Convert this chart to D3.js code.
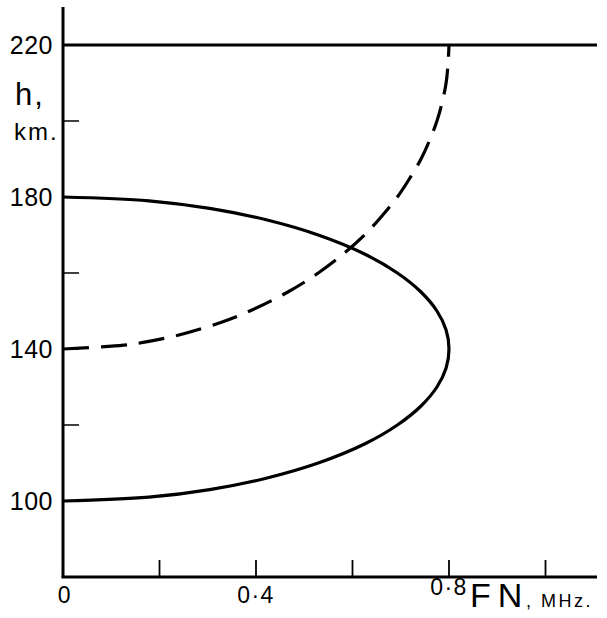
<!DOCTYPE html>
<html><head><meta charset="utf-8">
<script src="https://cdn.jsdelivr.net/npm/d3@7"></script>
<style>body{margin:0;background:#fff}svg{display:block}text{font-family:"Liberation Sans",Arial,sans-serif;fill:#000}</style>
</head><body>
<script>
// Solid curve (layer profile): height h (km) vs plasma frequency FN (MHz)
const solidH  = [100,101,103,106,110,115,120,125,130,135,140,145,150,155,160,165,170,174,177,179,180];
const solidFN = [0,0.178,0.304,0.421,0.529,0.625,0.693,0.742,0.775,0.794,0.800,0.794,0.775,0.742,0.693,0.625,0.529,0.421,0.304,0.178,0];
// Dashed curve
const dashH  = [140,141,142,144,147,150,155,160,165,170,175,180,185,190,195,200,205,210,215,220];
const dashFN = [0,0.126,0.178,0.250,0.327,0.387,0.466,0.529,0.581,0.625,0.661,0.693,0.719,0.742,0.760,0.775,0.786,0.794,0.798,0.800];
// Horizontal line level
const topLevel = 220;
// Axis ticks
const yTicks = [100,120,140,160,180,200,220];
const yLabels = [100,140,180,220];
const xTicks = [0.2,0.4,0.6,0.8,1.0];
const xLabels = [{v:0,t:"0"},{v:0.4,t:"0·4"},{v:0.8,t:"0·8"}];

const W=607,H=618;
const svg=d3.select("body").append("svg").attr("width",W).attr("height",H);
const x=d3.scaleLinear().domain([0,1.1]).range([63,593.75]);
const y=d3.scaleLinear().domain([80,230]).range([577,7]);
const x0=x(0), yb=y(80);

// axes lines
svg.append("line").attr("x1",x0).attr("x2",x0).attr("y1",7).attr("y2",yb).attr("stroke","#000").attr("stroke-width",3);
svg.append("line").attr("x1",x0-1.5).attr("x2",597).attr("y1",yb).attr("y2",yb).attr("stroke","#000").attr("stroke-width",3);

// ticks
svg.selectAll(".yt").data(yTicks).enter().append("line")
  .attr("x1",x0).attr("x2",x0+16).attr("y1",d=>y(d)).attr("y2",d=>y(d)).attr("stroke","#000").attr("stroke-width",1.5);
svg.selectAll(".xt").data(xTicks).enter().append("line")
  .attr("x1",d=>x(d)).attr("x2",d=>x(d)).attr("y1",yb).attr("y2",yb-17).attr("stroke","#000").attr("stroke-width",1.8);

// labels
svg.selectAll(".yl").data(yLabels).enter().append("text")
  .attr("x",53).attr("y",d=>y(d)).attr("dy","0.36em").attr("text-anchor","end").attr("font-size",25).attr("letter-spacing",0.5).text(d=>d);
svg.selectAll(".xl").data(xLabels).enter().append("text")
  .attr("x",d=>x(d.v)+(d.v===0?2:0)).attr("y",d=>d.v===0.8?595:603).attr("text-anchor","middle").attr("font-size",23).attr("letter-spacing",1.5).text(d=>d.t);
svg.append("text").attr("x",470).attr("y",607).attr("font-size",34).attr("letter-spacing",7).text("FN");
svg.append("text").attr("x",526).attr("y",607).attr("font-size",18).attr("letter-spacing",2.5).text(", MHz.");
svg.append("text").attr("x",15).attr("y",105).attr("font-size",31).attr("letter-spacing",2).text("h,");
svg.append("text").attr("x",14).attr("y",140).attr("font-size",24).attr("letter-spacing",2).text("km.");

// top horizontal line
svg.append("line").attr("x1",x0).attr("x2",597).attr("y1",y(topLevel)).attr("y2",y(topLevel)).attr("stroke","#000").attr("stroke-width",3);

const line=d3.line().x(d=>x(d[0])).y(d=>y(d[1])).curve(d3.curveCatmullRom.alpha(0.5));
svg.append("path").datum(solidFN.map((f,i)=>[f,solidH[i]])).attr("d",line)
  .attr("fill","none").attr("stroke","#000").attr("stroke-width",3.2);
svg.append("path").datum(dashFN.map((f,i)=>[f,dashH[i]])).attr("d",line)
  .attr("fill","none").attr("stroke","#000").attr("stroke-width",3.2).attr("stroke-dasharray","26,12");
</script>
</body></html>
